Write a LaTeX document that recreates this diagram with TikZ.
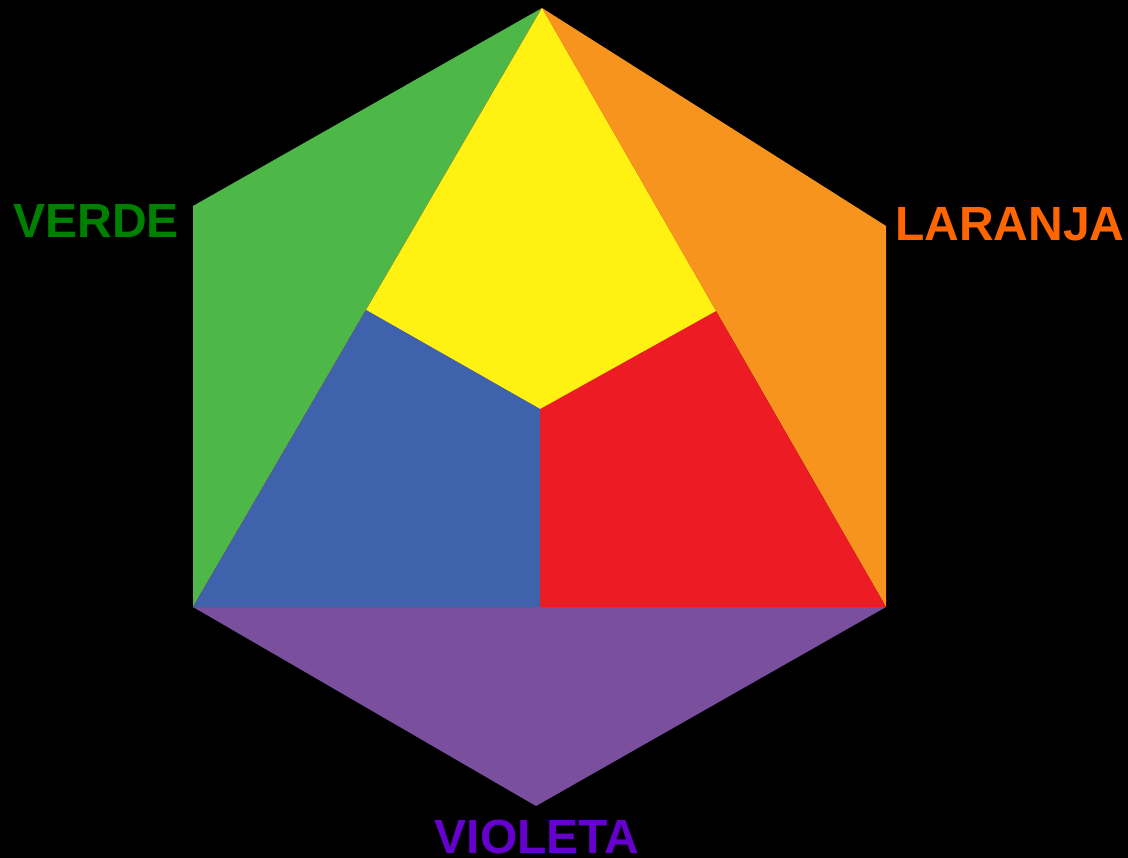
\documentclass[tikz,border=0pt]{standalone}
\usepackage{fontspec}
\usetikzlibrary{calc}
\setmainfont{Liberation Sans}
\definecolor{cgreen}{HTML}{4DB848}
\definecolor{cyellow}{HTML}{FFF212}
\definecolor{corange}{HTML}{F7941E}
\definecolor{cred}{HTML}{ED1C24}
\definecolor{cblue}{HTML}{3F62AC}
\definecolor{cviolet}{HTML}{7A4F9E}
\definecolor{tgreen}{HTML}{008000}
\definecolor{torange}{HTML}{FF6600}
\definecolor{tviolet}{HTML}{6600CC}
\tikzset{lbl/.style={anchor=base,inner sep=0pt,font=\fontsize{48}{48}\selectfont\bfseries}}
\begin{document}
\begin{tikzpicture}[x=1pt,y=-1pt]
\fill[black] (0,0) rectangle (1128,858);
\useasboundingbox (0,0) rectangle (1128,858);
\coordinate (T) at (542,8);
\coordinate (UL) at (193,206);
\coordinate (LL) at (193,607);
\coordinate (B) at (536,806);
\coordinate (LR) at (886,607);
\coordinate (UR) at (886,226);
\coordinate (YL) at ($(T)!0.5042!(LL)$);
\coordinate (C) at (540,409);
\coordinate (YR) at ($(T)!0.5058!(LR)$);
\coordinate (BM) at (540,607);
\fill[cviolet] (LL) -- (LR) -- (B) -- cycle;
\fill[cgreen] (T) -- (UL) -- (LL) -- cycle;
\fill[corange] (T) -- (UR) -- (LR) -- cycle;
\fill[cred] (T) -- (LL) -- (LR) -- cycle;
\fill[cyellow] (T) -- (YR) -- (C) -- (YL) -- cycle;
\fill[cblue] (YL) -- (C) -- (BM) -- (LL) -- cycle;
\node[lbl,text=tgreen] (verde) at (96,238) {VERDE};
\node[lbl,text=torange] (laranja) at (1010,241) {LARANJA};
\node[lbl,text=tviolet] (violeta) at (537,853) {VIOLETA};
\end{tikzpicture}
\end{document}
